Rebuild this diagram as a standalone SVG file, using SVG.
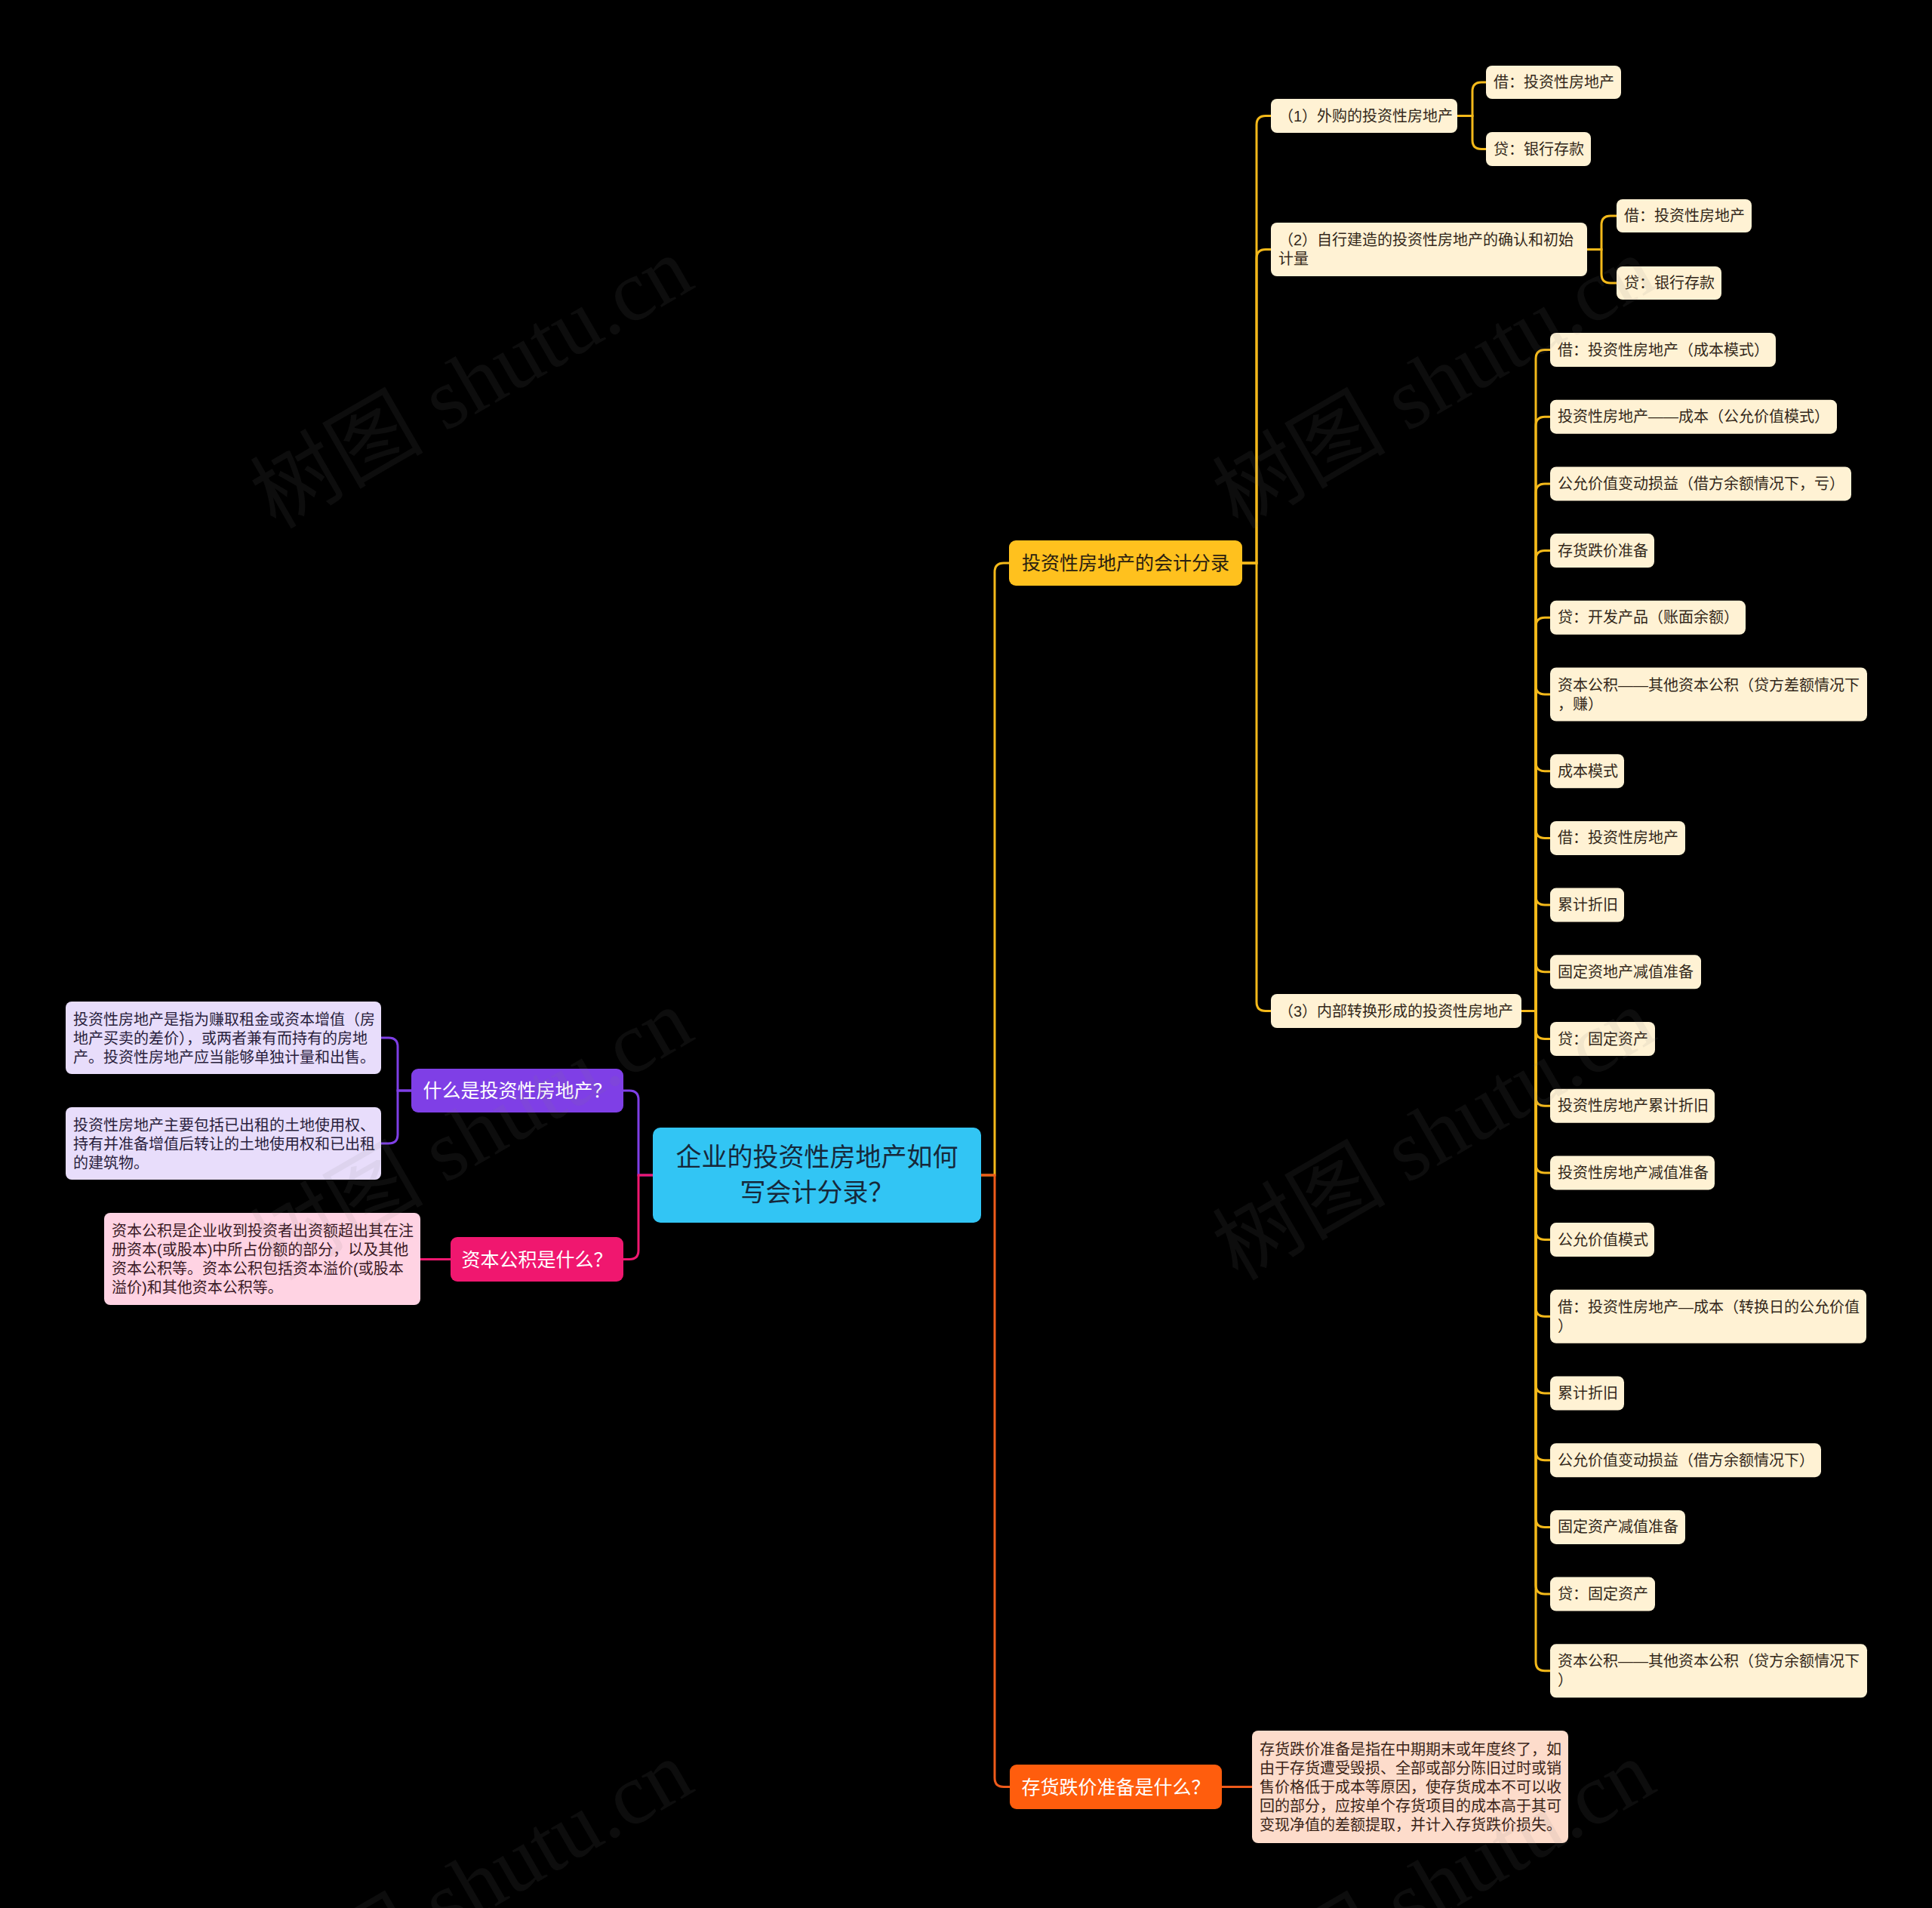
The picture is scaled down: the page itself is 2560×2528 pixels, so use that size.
<svg xmlns="http://www.w3.org/2000/svg" width="2560" height="2528" viewBox="0 0 2560 2528">
<style>
text{font-family:"Liberation Sans","Noto Sans CJK SC",sans-serif;}
.t20{font-size:20px;dominant-baseline:central;}
.cream{fill:#FFF2D4;}
.ct{fill:#33281A;}
.gold{fill:none;stroke:#F4B91A;stroke-width:3;}
.pur{fill:none;stroke:#7F3FE6;stroke-width:3;}
.pnk{fill:none;stroke:#F0176F;stroke-width:3;}
.org{fill:none;stroke:#EE5A1B;stroke-width:3;}
.wm{font-family:"Liberation Serif","Noto Sans CJK SC",serif;font-size:115px;fill:#808080;fill-opacity:0.1;}
</style>
<rect x="0" y="0" width="2560" height="2528" fill="#000"/>

<g id="connectors">
  <path class="pur" d="M865,1557 H846 V1457 Q846,1445 834,1445 H826"/>
  <path class="pnk" d="M865,1557 H846 V1656.5 Q846,1668.5 834,1668.5 H826"/>
  <path class="gold" d="M1300,1557 H1318 V758 Q1318,746 1330,746 H1337"/>
  <path class="org" d="M1300,1557 H1318 V2355.5 Q1318,2367.5 1330,2367.5 H1338"/>
  <path class="pur" d="M545,1445 H527 V1387 Q527,1375 515,1375 H505"/>
  <path class="pur" d="M545,1445 H527 V1503 Q527,1515 515,1515 H505"/>
  <path class="pnk" d="M597,1668.5 H557"/>
  <path class="org" d="M1619,2367.5 H1659"/>
  <path class="gold" d="M1646,746 H1665 V165.5 Q1665,153.5 1677,153.5 H1684"/>
  <path class="gold" d="M1646,746 H1665 V342.5 Q1665,330.5 1677,330.5 H1684"/>
  <path class="gold" d="M1646,746 H1665 V1327.5 Q1665,1339.5 1677,1339.5 H1684"/>
  <path class="gold" d="M1931,153.5 H1951 V121 Q1951,109 1963,109 H1969"/>
  <path class="gold" d="M1931,153.5 H1951 V185.5 Q1951,197.5 1963,197.5 H1969"/>
  <path class="gold" d="M2103,330.5 H2122 V298 Q2122,286 2134,286 H2142"/>
  <path class="gold" d="M2103,330.5 H2122 V363 Q2122,375 2134,375 H2142"/>
  <path class="gold" d="M2016,1339.5 H2035 V475.5 Q2035,463.5 2047,463.5 H2054"/>
  <path class="gold" d="M2016,1339.5 H2035 V564.2 Q2035,552.2 2047,552.2 H2054"/>
  <path class="gold" d="M2016,1339.5 H2035 V652.9 Q2035,640.9 2047,640.9 H2054"/>
  <path class="gold" d="M2016,1339.5 H2035 V741.6 Q2035,729.6 2047,729.6 H2054"/>
  <path class="gold" d="M2016,1339.5 H2035 V830.3 Q2035,818.3 2047,818.3 H2054"/>
  <path class="gold" d="M2016,1339.5 H2035 V908 Q2035,920 2047,920 H2054"/>
  <path class="gold" d="M2016,1339.5 H2035 V1009.7 Q2035,1021.7 2047,1021.7 H2054"/>
  <path class="gold" d="M2016,1339.5 H2035 V1098.4 Q2035,1110.4 2047,1110.4 H2054"/>
  <path class="gold" d="M2016,1339.5 H2035 V1187.1 Q2035,1199.1 2047,1199.1 H2054"/>
  <path class="gold" d="M2016,1339.5 H2035 V1275.8 Q2035,1287.8 2047,1287.8 H2054"/>
  <path class="gold" d="M2016,1339.5 H2035 V1364.5 Q2035,1376.5 2047,1376.5 H2054"/>
  <path class="gold" d="M2016,1339.5 H2035 V1453.2 Q2035,1465.2 2047,1465.2 H2054"/>
  <path class="gold" d="M2016,1339.5 H2035 V1541.9 Q2035,1553.9 2047,1553.9 H2054"/>
  <path class="gold" d="M2016,1339.5 H2035 V1630.6 Q2035,1642.6 2047,1642.6 H2054"/>
  <path class="gold" d="M2016,1339.5 H2035 V1732.3 Q2035,1744.3 2047,1744.3 H2054"/>
  <path class="gold" d="M2016,1339.5 H2035 V1834 Q2035,1846 2047,1846 H2054"/>
  <path class="gold" d="M2016,1339.5 H2035 V1922.7 Q2035,1934.7 2047,1934.7 H2054"/>
  <path class="gold" d="M2016,1339.5 H2035 V2011.4 Q2035,2023.4 2047,2023.4 H2054"/>
  <path class="gold" d="M2016,1339.5 H2035 V2100.1 Q2035,2112.1 2047,2112.1 H2054"/>
  <path class="gold" d="M2016,1339.5 H2035 V2201.8 Q2035,2213.8 2047,2213.8 H2054"/>
</g>

<g id="root">
  <rect x="865" y="1494" width="435" height="126" rx="10" fill="#32C5F4"/>
  <text x="1082.5" y="1533" font-size="34" fill="#16283A" text-anchor="middle" dominant-baseline="central">企业的投资性房地产如何</text>
  <text x="1082.5" y="1580" font-size="34" fill="#16283A" text-anchor="middle" dominant-baseline="central">写会计分录？</text>
</g>

<g id="n-kuaiji">
  <rect x="1337" y="716" width="309" height="60" rx="9" fill="#FFC11E"/>
  <text x="1491.5" y="746" font-size="25" fill="#2A2010" text-anchor="middle" dominant-baseline="central">投资性房地产的会计分录</text>
</g>
<g id="n-shenme">
  <rect x="545" y="1416" width="281" height="58" rx="9" fill="#7F3FE6"/>
  <text x="685.5" y="1445" font-size="25" fill="#fff" text-anchor="middle" dominant-baseline="central">什么是投资性房地产？</text>
</g>
<g id="n-zibengongji">
  <rect x="597" y="1639" width="229" height="59" rx="9" fill="#F0176F"/>
  <text x="711.5" y="1668.5" font-size="25" fill="#fff" text-anchor="middle" dominant-baseline="central">资本公积是什么？</text>
</g>
<g id="n-cunhuo">
  <rect x="1338" y="2338" width="281" height="59" rx="9" fill="#FF5D0D"/>
  <text x="1478.5" y="2367.5" font-size="25" fill="#fff" text-anchor="middle" dominant-baseline="central">存货跌价准备是什么？</text>
</g>

<g id="leaf-def1">
  <rect x="87" y="1327" width="418" height="96" rx="8" fill="#E8DDFB"/>
  <text class="t20" x="97" y="1350.5" fill="#2A1F3D">投资性房地产是指为赚取租金或资本增值（房</text>
  <text class="t20" x="97" y="1375.5" fill="#2A1F3D">地产买卖的差价），或两者兼有而持有的房地</text>
  <text class="t20" x="97" y="1400.5" fill="#2A1F3D">产。投资性房地产应当能够单独计量和出售。</text>
</g>
<g id="leaf-def2">
  <rect x="87" y="1467" width="418" height="96" rx="8" fill="#E8DDFB"/>
  <text class="t20" x="97" y="1490.5" fill="#2A1F3D">投资性房地产主要包括已出租的土地使用权、</text>
  <text class="t20" x="97" y="1515.5" fill="#2A1F3D">持有并准备增值后转让的土地使用权和已出租</text>
  <text class="t20" x="97" y="1540.5" fill="#2A1F3D">的建筑物。</text>
</g>
<g id="leaf-zbgj">
  <rect x="138" y="1607" width="419" height="122" rx="8" fill="#FFD3E3"/>
  <text class="t20" x="148" y="1630.5" fill="#3A1A25">资本公积是企业收到投资者出资额超出其在注</text>
  <text class="t20" x="148" y="1655.5" fill="#3A1A25">册资本(或股本)中所占份额的部分，以及其他</text>
  <text class="t20" x="148" y="1680.5" fill="#3A1A25">资本公积等。资本公积包括资本溢价(或股本</text>
  <text class="t20" x="148" y="1705.5" fill="#3A1A25">溢价)和其他资本公积等。</text>
</g>
<g id="leaf-cunhuo">
  <rect x="1659" y="2293" width="419" height="149" rx="8" fill="#FDDCCB"/>
  <text class="t20" x="1669" y="2317.5" fill="#3A2418">存货跌价准备是指在中期期末或年度终了，如</text>
  <text class="t20" x="1669" y="2342.5" fill="#3A2418">由于存货遭受毁损、全部或部分陈旧过时或销</text>
  <text class="t20" x="1669" y="2367.5" fill="#3A2418">售价格低于成本等原因，使存货成本不可以收</text>
  <text class="t20" x="1669" y="2392.5" fill="#3A2418">回的部分，应按单个存货项目的成本高于其可</text>
  <text class="t20" x="1669" y="2417.5" fill="#3A2418">变现净值的差额提取，并计入存货跌价损失。</text>
</g>

<g id="n-1">
  <rect class="cream" x="1684" y="131" width="247" height="45" rx="8"/>
  <text class="t20 ct" x="1694" y="153.5">（1）外购的投资性房地产</text>
</g>
<g id="n-1a"><rect class="cream" x="1969" y="87" width="179" height="44" rx="8"/><text class="t20 ct" x="1979" y="109">借：投资性房地产</text></g>
<g id="n-1b"><rect class="cream" x="1969" y="175" width="139" height="45" rx="8"/><text class="t20 ct" x="1979" y="197.5">贷：银行存款</text></g>

<g id="n-2">
  <rect class="cream" x="1684" y="295" width="419" height="71" rx="8"/>
  <text class="t20 ct" x="1694" y="318">（2）自行建造的投资性房地产的确认和初始</text>
  <text class="t20 ct" x="1694" y="343">计量</text>
</g>
<g id="n-2a"><rect class="cream" x="2142" y="264" width="179" height="44" rx="8"/><text class="t20 ct" x="2152" y="286">借：投资性房地产</text></g>
<g id="n-2b"><rect class="cream" x="2142" y="353" width="139" height="44" rx="8"/><text class="t20 ct" x="2152" y="375">贷：银行存款</text></g>

<g id="n-3">
  <rect class="cream" x="1684" y="1317" width="332" height="45" rx="8"/>
  <text class="t20 ct" x="1694" y="1339.5">（3）内部转换形成的投资性房地产</text>
</g>

<g id="n-3-01"><rect class="cream" x="2054" y="441" width="299" height="45" rx="8"/><text class="t20 ct" x="2064" y="463.5">借：投资性房地产（成本模式）</text></g>
<g id="n-3-02"><rect class="cream" x="2054" y="529.7" width="380" height="45" rx="8"/><text class="t20 ct" x="2064" y="552.2">投资性房地产——成本（公允价值模式）</text></g>
<g id="n-3-03"><rect class="cream" x="2054" y="618.4" width="399" height="45" rx="8"/><text class="t20 ct" x="2064" y="640.9">公允价值变动损益（借方余额情况下，亏）</text></g>
<g id="n-3-04"><rect class="cream" x="2054" y="707.1" width="138" height="45" rx="8"/><text class="t20 ct" x="2064" y="729.6">存货跌价准备</text></g>
<g id="n-3-05"><rect class="cream" x="2054" y="795.8" width="259" height="45" rx="8"/><text class="t20 ct" x="2064" y="818.3">贷：开发产品（账面余额）</text></g>
<g id="n-3-06"><rect class="cream" x="2054" y="884.5" width="420" height="71" rx="8"/><text class="t20 ct" x="2064" y="907.5">资本公积——其他资本公积（贷方差额情况下</text><text class="t20 ct" x="2064" y="932.5">，赚）</text></g>
<g id="n-3-07"><rect class="cream" x="2054" y="999.2" width="98" height="45" rx="8"/><text class="t20 ct" x="2064" y="1021.7">成本模式</text></g>
<g id="n-3-08"><rect class="cream" x="2054" y="1087.9" width="179" height="45" rx="8"/><text class="t20 ct" x="2064" y="1110.4">借：投资性房地产</text></g>
<g id="n-3-09"><rect class="cream" x="2054" y="1176.6" width="98" height="45" rx="8"/><text class="t20 ct" x="2064" y="1199.1">累计折旧</text></g>
<g id="n-3-10"><rect class="cream" x="2054" y="1265.3" width="200" height="45" rx="8"/><text class="t20 ct" x="2064" y="1287.8">固定资地产减值准备</text></g>
<g id="n-3-11"><rect class="cream" x="2054" y="1354" width="139" height="45" rx="8"/><text class="t20 ct" x="2064" y="1376.5">贷：固定资产</text></g>
<g id="n-3-12"><rect class="cream" x="2054" y="1442.7" width="218" height="45" rx="8"/><text class="t20 ct" x="2064" y="1465.2">投资性房地产累计折旧</text></g>
<g id="n-3-13"><rect class="cream" x="2054" y="1531.4" width="218" height="45" rx="8"/><text class="t20 ct" x="2064" y="1553.9">投资性房地产减值准备</text></g>
<g id="n-3-14"><rect class="cream" x="2054" y="1620.1" width="138" height="45" rx="8"/><text class="t20 ct" x="2064" y="1642.6">公允价值模式</text></g>
<g id="n-3-15"><rect class="cream" x="2054" y="1708.8" width="419" height="71" rx="8"/><text class="t20 ct" x="2064" y="1731.8">借：投资性房地产—成本（转换日的公允价值</text><text class="t20 ct" x="2064" y="1756.8">）</text></g>
<g id="n-3-16"><rect class="cream" x="2054" y="1823.5" width="98" height="45" rx="8"/><text class="t20 ct" x="2064" y="1846">累计折旧</text></g>
<g id="n-3-17"><rect class="cream" x="2054" y="1912.2" width="359" height="45" rx="8"/><text class="t20 ct" x="2064" y="1934.7">公允价值变动损益（借方余额情况下）</text></g>
<g id="n-3-18"><rect class="cream" x="2054" y="2000.9" width="179" height="45" rx="8"/><text class="t20 ct" x="2064" y="2023.4">固定资产减值准备</text></g>
<g id="n-3-19"><rect class="cream" x="2054" y="2089.6" width="139" height="45" rx="8"/><text class="t20 ct" x="2064" y="2112.1">贷：固定资产</text></g>
<g id="n-3-20"><rect class="cream" x="2054" y="2178.3" width="420" height="71" rx="8"/><text class="t20 ct" x="2064" y="2201.3">资本公积——其他资本公积（贷方余额情况下</text><text class="t20 ct" x="2064" y="2226.3">）</text></g>

<g id="watermarks">
  <text class="wm" x="365" y="702" transform="rotate(-30 365 702)">树图 shutu.cn</text>
  <text class="wm" x="1640" y="702" transform="rotate(-30 1640 702)">树图 shutu.cn</text>
  <text class="wm" x="365" y="1698" transform="rotate(-30 365 1698)">树图 shutu.cn</text>
  <text class="wm" x="1640" y="1698" transform="rotate(-30 1640 1698)">树图 shutu.cn</text>
  <text class="wm" x="365" y="2694" transform="rotate(-30 365 2694)">树图 shutu.cn</text>
  <text class="wm" x="1640" y="2694" transform="rotate(-30 1640 2694)">树图 shutu.cn</text>
</g>
</svg>
